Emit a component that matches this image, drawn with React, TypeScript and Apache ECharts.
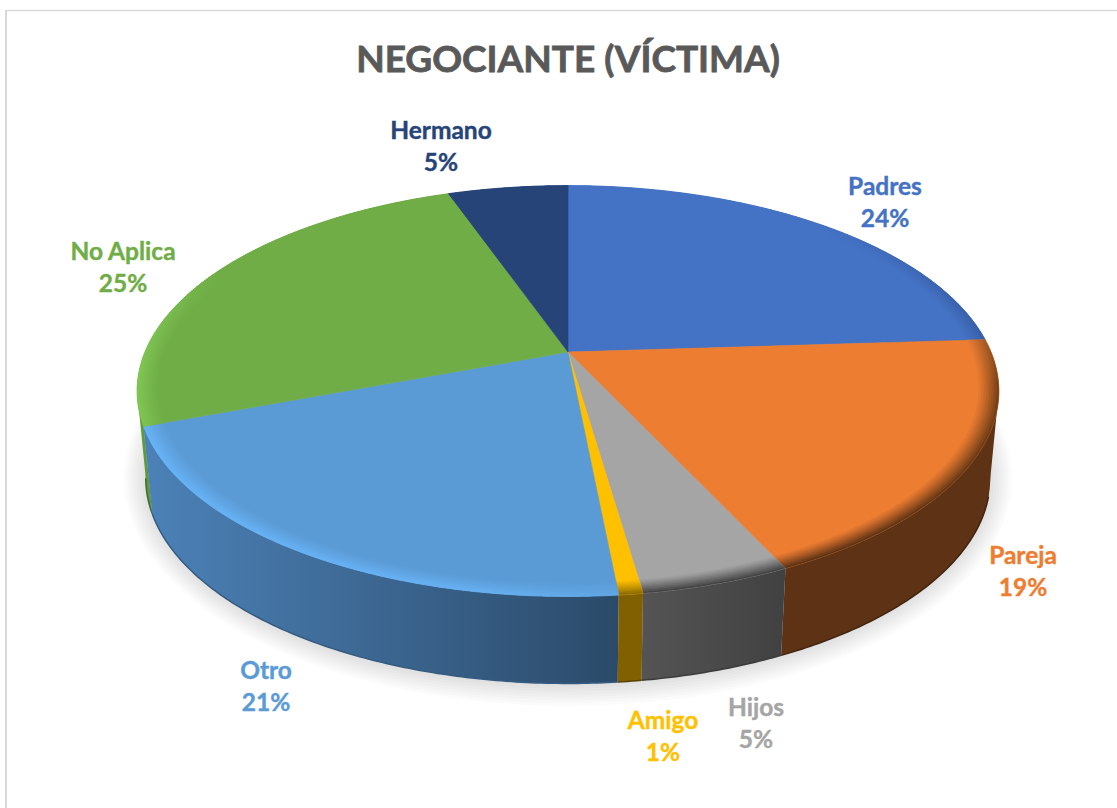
import React, { useEffect, useRef } from "react";
import * as echarts from "echarts";

const TITLE = "NEGOCIANTE (VÍCTIMA)";
const categories = ["Padres", "Pareja", "Hijos", "Amigo", "Otro", "No Aplica", "Hermano"];
const values = [24, 19, 4.7, 0.75, 20.85, 25.3, 5.4];

const faceColors = ["#4472c4", "#ed7d31", "#a5a5a5", "#ffc000", "#5b9bd5", "#70ad47", "#264478"];
const labelColors = ["#4472c4", "#ed7d31", "#a5a5a5", "#ffc000", "#5b9bd5", "#70ad47", "#264478"];
const labelCenters = [
  [885, 201], [1023, 570], [756, 722], [663, 735], [266, 685], [123, 266], [441, 145],
];
const wallStops: [number, string][][] = [
  [[0, "#2f5597"], [1, "#2f5597"]],
  [[0, "#5e3214"], [1, "#5e3214"]],
  [[0, "#545454"], [1, "#414141"]],
  [[0, "#806000"], [1, "#806000"]],
  [[0, "#4c82b8"], [1, "#2b4a69"]],
  [[0, "#5f9a3c"], [1, "#4f8030"]],
  [[0, "#1c335a"], [1, "#1c335a"]],
];
// rim: [direction, stops]; stop colours are what the bevel reaches at its outer edge
const rimStyles: [string, [number, string][]][] = [
  ["h", [[0, "#4472c4"], [0.6, "#4472c4"], [1, "#385fa8"]]],
  ["v", [[0, "#a65a24"], [0.2, "#7a4218"], [1, "#5e3214"]]],
  ["h", [[0, "#454545"], [1, "#454545"]]],
  ["h", [[0, "#8f6c00"], [1, "#8f6c00"]]],
  ["h", [[0, "#66b2f6"], [0.7, "#66b0f2"], [1, "#5fa6e4"]]],
  ["h", [[0, "#7fc653"], [0.25, "#70ad47"], [1, "#70ad47"]]],
  ["h", [[0, "#264478"], [1, "#264478"]]],
];

// projection of the tilted disc
const CX = 568, AY = 352, W = 423, H = 198, K = 0.19;
const DEPTH = 87, BOTTOM_W = 0.98;
const RIM_INNER = 0.955, RIM_STEPS = 8;
const RIGHT_TANGENT = (101 * Math.PI) / 180, RIGHT_TANGENT_BOTTOM = (106 * Math.PI) / 180;
const LEFT_TANGENT = (259 * Math.PI) / 180;

function project(theta: number, r: number, bottom = false): [number, number] {
  const X = r * Math.sin(theta), Y = r * Math.cos(theta);
  const d = 1 + K * Y;
  return [CX + (bottom ? BOTTOM_W : 1) * W * X / d, AY + (bottom ? DEPTH : 0) - H * Y / d];
}
function arc(a0: number, a1: number, r: number, bottom = false) {
  const n = Math.max(2, Math.ceil(Math.abs(a1 - a0) / 0.01));
  const pts: [number, number][] = [];
  for (let i = 0; i <= n; i++) pts.push(project(a0 + ((a1 - a0) * i) / n, r, bottom));
  return pts;
}
const total = values.reduce((a, b) => a + b, 0);
function angles(i: number): [number, number] {
  let c = 0;
  for (let j = 0; j < i; j++) c += values[j];
  return [(c / total) * Math.PI * 2, ((c + values[i]) / total) * Math.PI * 2];
}
function hex(c: string) {
  return [1, 3, 5].map((p) => parseInt(c.slice(p, p + 2), 16));
}
function mix(a: string, b: string, t: number) {
  const A = hex(a), B = hex(b);
  return "rgb(" + A.map((v, i) => Math.round(v + (B[i] - v) * t)).join(",") + ")";
}
function gradient(dir: string, stops: [number, string][]) {
  return new echarts.graphic.LinearGradient(0, 0, dir === "h" ? 1 : 0, dir === "h" ? 0 : 1,
    stops.map(([offset, color]) => ({ offset, color })));
}

const dataRows = categories.map((c, i) => ({ name: c, value: values[i] }));
// back-to-front order for the side walls
const wallOrder = categories.map((_, i) => i).sort((p, q) => {
  const [a0, a1] = angles(p), [b0, b1] = angles(q);
  return Math.cos((b0 + b1) / 2) - Math.cos((a0 + a1) / 2);
});

const renderShadow = () => {
  const layers: any[] = [];
  for (let d = 24; d >= 0; d -= 3) {
    layers.push({
      type: "ellipse",
      shape: { cx: CX, cy: 478, rx: 420 + d, ry: 205 + d * 0.95 },
      style: { fill: "rgba(0,0,0,0.016)" },
    });
  }
  return { type: "group", children: layers };
};

const renderWall = (params: any) => {
  const i = wallOrder[params.dataIndex];
  const [a0, a1] = angles(i);
  const top = arc(a0, a1, 1), bot = arc(a0, a1, 1, true);
  const dark = mix(wallStops[i][0][1], "#000000", 0.3);
  const children: any[] = [];
  // silhouette between the rim's side tangent and the lower edge
  if (a0 < RIGHT_TANGENT && RIGHT_TANGENT < a1) {
    children.push({
      type: "polygon",
      shape: { points: [project(RIGHT_TANGENT, 1), project(RIGHT_TANGENT_BOTTOM, 1, true), project(RIGHT_TANGENT + 0.5, 1)] },
      style: { fill: wallStops[i][0][1] },
    });
  }
  if (a0 < LEFT_TANGENT && LEFT_TANGENT < a1) {
    children.push({
      type: "polygon",
      shape: { points: [project(LEFT_TANGENT, 1), ...arc(LEFT_TANGENT, a0, 1, true), project(a0, 1)] },
      style: { fill: wallStops[i][0][1] },
    });
  }
  children.push({
    type: "polygon",
    shape: { points: [...top, ...bot.slice().reverse()] },
    style: { fill: gradient("h", wallStops[i]) },
  });
  // darker lower edge, only where the wall's lower rim faces the viewer
  const e0 = Math.max(a0, RIGHT_TANGENT_BOTTOM), e1 = Math.min(a1, LEFT_TANGENT);
  if (e1 > e0) {
    children.push({
      type: "polyline",
      shape: { points: arc(e0, e1, 1, true) },
      style: { stroke: dark, lineWidth: 1.5, fill: "none" },
    });
  }
  return { type: "group", children };
};

const renderTop = (params: any, api: any) => {
  const i = params.dataIndex;
  const [a0, a1] = angles(i);
  void api.value(1);
  const children: any[] = [
    {
      type: "polygon",
      shape: { points: [[CX, AY], ...arc(a0, a1, 1)] },
      style: { fill: faceColors[i], stroke: faceColors[i], lineWidth: 0.6 },
    },
  ];
  const [dir, stops] = rimStyles[i];
  for (let s = 0; s < RIM_STEPS; s++) {
    const r0 = RIM_INNER + ((1 - RIM_INNER) * s) / RIM_STEPS;
    const r1 = RIM_INNER + ((1 - RIM_INNER) * (s + 1)) / RIM_STEPS;
    const f = Math.pow((s + 1) / RIM_STEPS, 1.15);
    const fill = gradient(dir, stops.map(([o, c]) => [o, mix(faceColors[i], c, f)] as [number, string]));
    children.push({
      type: "polygon",
      shape: { points: [...arc(a0, a1, r0), ...arc(a0, a1, r1).reverse()] },
      style: { fill, stroke: fill, lineWidth: 0.5 },
    });
  }
  return { type: "group", children };
};

const renderLabel = (params: any, api: any) => {
  const i = params.dataIndex;
  const [x, y] = labelCenters[i];
  const pct = Math.round((api.value(1) / total) * 100);
  return {
    type: "text",
    style: {
      x,
      y,
      text: categories[i] + "\n" + pct + "%",
      fill: labelColors[i],
      stroke: labelColors[i],
      lineWidth: 0.4,
      font: "bold 24.5px Lato",
      lineHeight: 32,
      align: "center",
      verticalAlign: "middle",
    },
  };
};

export default function App() {
  const ref = useRef<HTMLDivElement>(null);
  useEffect(() => {
    document.body.style.margin = "0";
    document.body.style.background = "#ffffff";
    const chart = echarts.init(ref.current!, undefined, { renderer: "svg" });
    const enc = { itemName: 0, value: 1 };
    const rows = dataRows.map((d) => [d.name, d.value]);
    chart.setOption({
      animation: false,
      backgroundColor: "#ffffff",
      title: {
        text: TITLE,
        left: 563,
        top: 34,
        textAlign: "center",
        textStyle: {
          fontFamily: "Lato",
          fontWeight: "bold",
          fontSize: 37,
          color: "#595959",
          textBorderColor: "#595959",
          textBorderWidth: 0.8,
        },
      },
      graphic: [
        { type: "line", shape: { x1: 6, y1: 10.5, x2: 1117, y2: 10.5 }, style: { stroke: "#d9d9d9", lineWidth: 1.5 } },
        { type: "line", shape: { x1: 6, y1: 10, x2: 6, y2: 808 }, style: { stroke: "#d9d9d9", lineWidth: 2 } },
      ],
      series: [
        { type: "custom", coordinateSystem: "none", data: [[0, 1]], renderItem: renderShadow, silent: true, z: 1 },
        { type: "custom", coordinateSystem: "none", data: rows, encode: enc, renderItem: renderWall, silent: true, z: 2 },
        { type: "custom", coordinateSystem: "none", data: rows, encode: enc, renderItem: renderTop, silent: true, z: 3 },
        { type: "custom", coordinateSystem: "none", data: rows, encode: enc, renderItem: renderLabel, silent: true, z: 4 },
      ],
    });
    return () => chart.dispose();
  }, []);
  return <div ref={ref} style={{ position: "fixed", left: 0, top: 0, width: 1117, height: 808 }} />;
}
